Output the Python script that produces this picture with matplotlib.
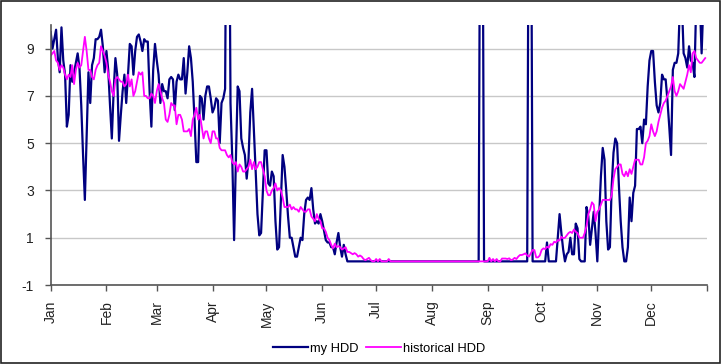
import numpy as np
import matplotlib.pyplot as plt
from matplotlib.patches import Rectangle

plt.rcParams['font.family'] = ['Liberation Sans', 'DejaVu Sans']
plt.rcParams['axes.unicode_minus'] = False

months = ['Jan', 'Feb', 'Mar', 'Apr', 'May', 'Jun', 'Jul', 'Aug', 'Sep', 'Oct', 'Nov', 'Dec']
month_start = [0, 31, 59, 90, 120, 151, 181, 212, 243, 273, 304, 334, 365]

# my HDD, one value per day (values above 10 run off the top of the chart)
my_jan = [9.7, 9.0, 9.4, 9.8, 8.6, 8.0, 9.9, 8.5, 7.9, 5.7,
          6.2, 8.3, 7.6, 8.0, 8.4, 8.8, 8.2, 6.6, 4.5, 2.6,
          5.3, 8.0, 6.7, 8.3, 8.6, 9.4, 9.4, 9.5, 9.8, 9.1, 8.0]
my_feb = [8.9, 8.1, 6.6, 5.2, 7.2, 8.6, 7.9, 5.1, 6.2, 7.2,
          7.9, 6.7, 7.9, 9.2, 9.1, 7.9, 8.9, 9.5, 9.6, 9.3,
          8.9, 9.4, 9.3, 9.3, 7.2, 5.7, 8.1, 9.2]
my_mar = [8.5, 7.9, 6.7, 7.5, 7.2, 7.2, 6.9, 7.7, 7.8, 7.7,
          6.4, 7.6, 7.9, 7.7, 7.7, 8.6, 7.1, 8.0, 9.1, 8.6,
          7.6, 6.0, 4.2, 4.2, 7.0, 6.9, 6.0, 7.0, 7.4, 7.4, 6.9]
my_apr = [6.3, 6.5, 6.9, 6.8, 5.0, 6.7, 6.9, 7.3, 20, 20,
          6.7, 4.3, 0.9, 4.3, 7.4, 7.2, 5.2, 4.8, 4.5, 3.5,
          4.3, 6.3, 7.3, 5.6, 3.8, 2.0, 1.1, 1.2, 2.9, 4.7]
my_may = [4.7, 3.3, 3.2, 3.8, 3.6, 1.7, 0.5, 0.6, 2.6, 4.5,
          4.0, 3.0, 1.9, 1.0, 1.0, 0.6, 0.2, 0.2, 0.6, 1.0,
          0.9, 2.0, 2.6, 2.7, 2.6, 3.1, 2.2, 1.6, 1.7, 1.6, 2.0]
my_jun = [1.7, 1.3, 0.9, 0.8, 0.8, 0.6, 0.6, 0.3, 0.8, 1.2,
          0.6, 0.2, 0.7, 0.3] + [0.0] * 16
my_jul = [0.0] * 31
my_aug = [0.0] * 27 + [20, 20, 0.0, 0.0]
my_sep = [0.0] * 23 + [20, 20, 0.0, 0.0, 0.0, 0.0, 0.0]
my_oct = [0.0, 0.0, 0.0, 0.8, 0.0, 0.0, 0.0, 0.0, 0.0, 1.0,
          2.0, 1.2, 0.5, 0.0, 0.3, 0.4, 1.0, 0.3, 0.3, 1.6,
          1.4, 0.1, 0.0, 0.0, 0.0, 2.3, 1.9, 0.7, 1.4, 2.1, 1.2]
my_nov = [0.0, 1.9, 3.6, 4.8, 4.3, 1.7, 0.5, 0.6, 3.2, 4.6,
          5.2, 5.0, 3.2, 1.7, 0.6, 0.0, 0.0, 0.6, 2.7, 1.7,
          2.9, 3.2, 5.6, 5.6, 5.7, 5.0, 6.0, 5.8, 7.4, 8.5]
my_dec = [8.9, 8.9, 7.6, 6.6, 6.3, 6.7, 7.9, 7.7, 7.7, 6.8,
          5.7, 4.5, 8.1, 8.4, 8.4, 8.8, 11, 11, 8.8, 8.6,
          8.2, 9.1, 8.5, 8.4, 7.8, 11, 11, 11, 8.8, 11, 11]

# historical HDD
hist_jan = [8.7, 8.8, 8.9, 8.5, 8.4, 8.1, 8.3, 8.2, 7.9, 7.7,
            7.9, 7.8, 8.3, 7.5, 8.1, 8.4, 8.2, 8.3, 8.9, 9.5,
            8.9, 8.1, 8.1, 7.8, 7.7, 8.1, 8.3, 8.4, 9.1, 8.9, 8.7]
hist_feb = [8.4, 7.9, 7.6, 7.2, 7.0, 7.7, 7.8, 7.7, 7.6, 7.6,
            7.4, 7.5, 7.9, 7.4, 7.7, 7.0, 7.2, 7.6, 8.0, 7.9,
            8.0, 7.0, 7.0, 6.9, 6.9, 7.1, 7.0, 6.7]
hist_mar = [7.2, 7.5, 7.2, 6.9, 6.7, 6.0, 5.9, 6.2, 6.7, 6.6,
            6.6, 5.8, 6.2, 6.2, 6.0, 5.5, 5.5, 5.5, 5.6, 5.3,
            6.0, 6.2, 6.5, 6.0, 6.2, 5.7, 5.2, 5.5, 5.5, 5.2, 5.0]
hist_apr = [5.5, 5.5, 5.2, 5.2, 4.8, 4.7, 4.7, 4.7, 4.5, 4.4,
            4.5, 4.2, 4.1, 4.2, 3.8, 4.1, 4.0, 3.8, 3.8, 3.9,
            4.0, 4.3, 3.9, 4.2, 3.9, 4.0, 4.2, 4.2, 3.9, 3.6]
hist_may = [3.0, 2.8, 2.8, 3.0, 3.1, 3.3, 3.0, 3.1, 3.0, 2.7,
            2.3, 2.3, 2.3, 2.4, 2.2, 2.3, 2.2, 2.2, 2.1, 2.3,
            2.2, 2.1, 2.1, 2.2, 2.2, 1.9, 1.8, 1.7, 2.0, 1.8, 1.7]
hist_jun = [1.4, 1.4, 1.25, 1.0, 0.9, 0.7, 0.55, 0.75, 0.6, 0.65,
            0.6, 0.5, 0.55, 0.6, 0.4, 0.4, 0.35, 0.3, 0.35, 0.3,
            0.2, 0.25, 0.2, 0.1, 0.05, 0.1, 0.15, 0.05, 0.0, 0.0]
hist_jul = [0.1, 0.0, 0.1, 0.0, 0.0, 0.0, 0.0, 0.1] + [0.0] * 23
hist_aug = [0.0] * 31
hist_sep = [0.0, 0.15, 0.0, 0.1, 0.0, 0.1, 0.0, 0.0, 0.12, 0.12,
            0.12, 0.1, 0.13, 0.05, 0.08, 0.15, 0.1, 0.2, 0.27, 0.27,
            0.3, 0.34, 0.25, 0.2, 0.34, 0.48, 0.48, 0.17, 0.17, 0.25]
hist_oct = [0.48, 0.55, 0.52, 0.62, 0.58, 0.73, 0.7, 0.83, 0.8, 0.9,
            0.88, 1.04, 0.98, 1.0, 1.1, 1.2, 1.25, 1.2, 1.35, 1.25,
            1.2, 1.0, 1.0, 1.0, 1.2, 1.5, 2.0, 2.2, 2.5, 2.4, 1.7]
hist_nov = [2.1, 2.2, 2.4, 2.6, 2.6, 2.6, 2.6, 2.6, 2.8, 3.5,
            3.9, 4.0, 4.1, 4.1, 3.7, 3.6, 3.8, 3.6, 3.9, 3.7,
            4.0, 4.3, 4.3, 4.3, 4.1, 4.1, 4.4, 5.0, 5.1, 5.3]
hist_dec = [5.8, 5.5, 5.3, 5.5, 5.9, 6.2, 6.5, 6.7, 6.8, 7.0,
            7.2, 7.4, 7.8, 7.2, 7.0, 7.2, 7.5, 7.4, 7.3, 7.6,
            7.9, 8.3, 8.0, 8.8, 8.9, 8.6, 8.5, 8.4, 8.4, 8.5, 8.6]

my_hdd = (my_jan + my_feb + my_mar + my_apr + my_may + my_jun +
          my_jul + my_aug + my_sep + my_oct + my_nov + my_dec)
hist_hdd = (hist_jan + hist_feb + hist_mar + hist_apr + hist_may + hist_jun +
            hist_jul + hist_aug + hist_sep + hist_oct + hist_nov + hist_dec)

fig = plt.figure(figsize=(7.21, 3.64), dpi=100)
ax = fig.add_axes([0.0703, 0.217, 0.9103, 0.7143])

ax.plot(np.arange(len(my_hdd)), my_hdd, color='#000080', lw=1.6, label='my HDD')
ax.plot(np.arange(len(hist_hdd)), hist_hdd, color='#FF00FF', lw=1.3, label='historical HDD')

ax.set_xlim(0, 365)
ax.set_ylim(-1, 10)
ax.set_yticks([-1, 1, 3, 5, 7, 9])
ax.set_xticks(month_start)
ax.set_xticklabels(months + [''], rotation=90)
ax.tick_params(axis='both', colors='#555555', labelcolor='#222222', labelsize=10, length=4, width=1)
ax.tick_params(axis='y', pad=8)
ax.tick_params(axis='x', pad=7)

ax.yaxis.grid(True, color='#c8c8c8', lw=1)
ax.set_axisbelow(True)
for s in ['top', 'right']:
    ax.spines[s].set_visible(False)
for s in ['left', 'bottom']:
    ax.spines[s].set_color('#555555')
    ax.spines[s].set_linewidth(1.2)

ax.legend(loc='center', bbox_to_anchor=(0.5, -0.246), ncol=2, frameon=False,
          fontsize=9.3, handlelength=2.7, handletextpad=0.15, columnspacing=0.6)

fig.add_artist(Rectangle((0.001, 0.002), 0.997, 0.996, transform=fig.transFigure,
                         fill=False, ec='#222222', lw=1.2))

fig.savefig('out.png', dpi=100)
